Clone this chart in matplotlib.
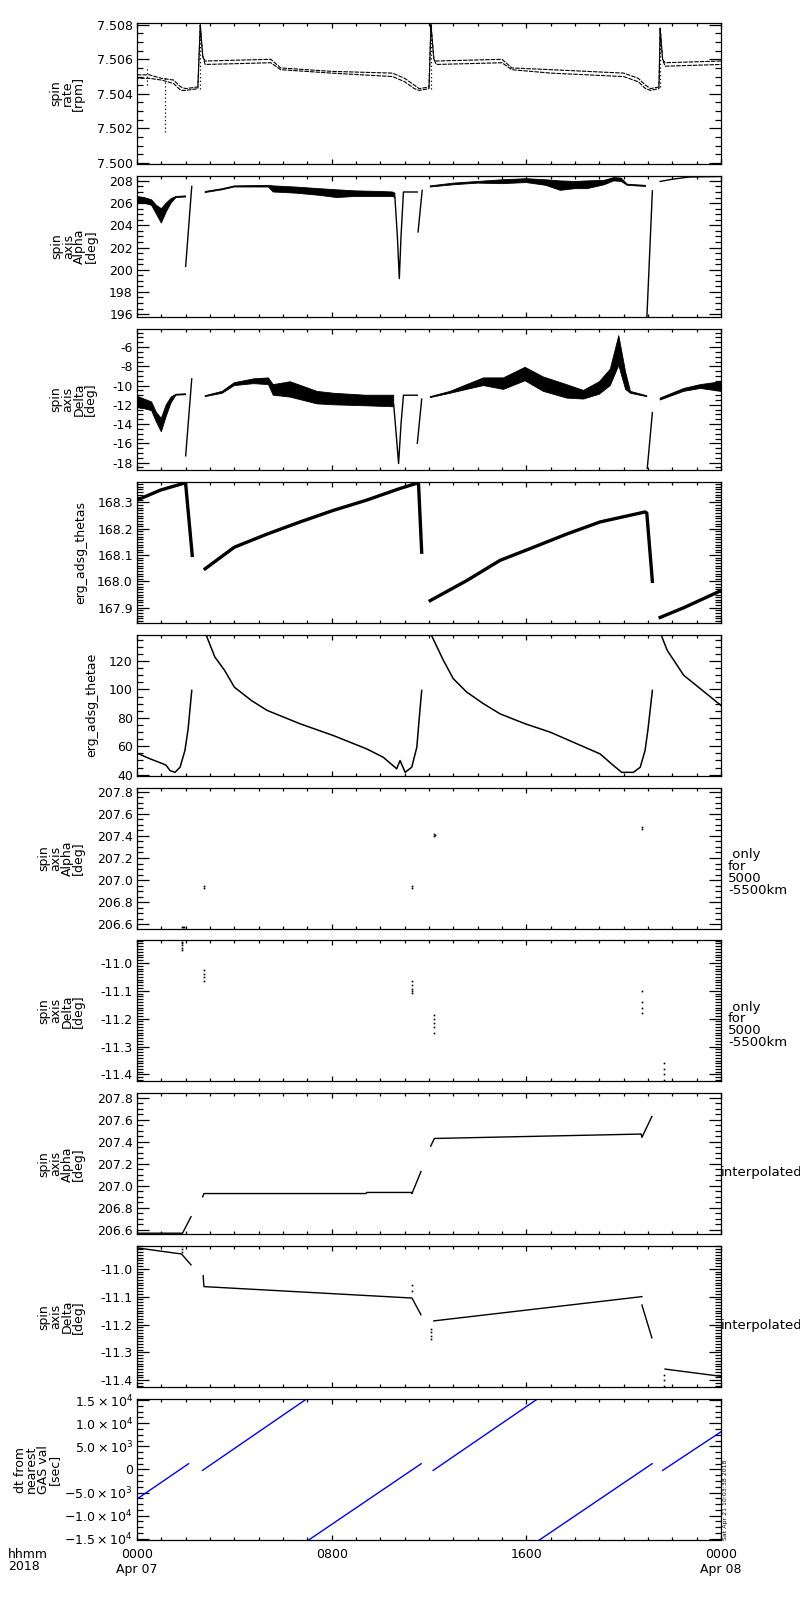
import numpy as np
import matplotlib
matplotlib.use("Agg")
import matplotlib.pyplot as plt
from matplotlib.ticker import MultipleLocator, FormatStrFormatter, FixedLocator

nan = np.nan

# ---- panel 1: spin rate [rpm] ----
rate_t = [0, 0.5, 1.0, 1.5, 1.8, 2.0, 2.5, 2.6, 2.7, 2.8, 5.5, 5.9, 8.0, 10.5, 11.0, 11.4, 11.6, 12.0,
          12.08, 12.2, 12.3, 15.0, 15.4, 17.0, 20.0, 20.6, 20.9, 21.1, 21.45, 21.5, 21.6, 21.7, 24.0]
rate_hi = [7.5051, 7.5051, 7.5049, 7.5048, 7.5044, 7.5043, 7.5044, 7.5080, 7.5062, 7.5059, 7.5060, 7.5055,
           7.5053, 7.5052, 7.5049, 7.5045, 7.5043, 7.5044, 7.5080, 7.5060, 7.5059, 7.5060, 7.5055, 7.5054,
           7.5052, 7.5049, 7.5045, 7.5043, 7.5044, 7.5078, 7.5060, 7.5058, 7.5059]
rate_lo = [7.5049, 7.5049, 7.5048, 7.5046, 7.5042, 7.5042, 7.5043, 7.5080, 7.5062, 7.5057, 7.5058, 7.5054,
           7.5052, 7.5050, 7.5047, 7.5043, 7.5042, 7.5043, 7.5080, 7.5060, 7.5057, 7.5058, 7.5054, 7.5052,
           7.5050, 7.5047, 7.5043, 7.5042, 7.5043, 7.5078, 7.5060, 7.5056, 7.5057]
spike_t = [0.42, 1.15, 2.6, 12.08, 21.5]
spike_lo = [7.5045, 7.5018, 7.5043, 7.5043, 7.5044]
spike_hi = [7.5056, 7.5049, 7.5080, 7.5080, 7.5078]

# ---- panel 2: spin axis Alpha (band) ----
alpha_t = [0, 0.3, 0.6, 0.8, 1.0, 1.2, 1.4, 1.6, 2.0, nan,
           2.8, 3.5, 4.0, 5.4, 5.6, 6.5, 7.5, 8.2, 9.0, 10.0, 10.5, 10.6, nan,
           12.05, 13.0, 14.0, 15.0, 16.0, 16.8, 17.4, 18.0, 18.5, 19.2, 19.6, 19.9, 20.15, 20.9]
alpha_hi = [206.6, 206.5, 206.3, 205.8, 205.5, 206.0, 206.4, 206.6, 206.65, nan,
            207.05, 207.3, 207.55, 207.6, 207.55, 207.45, 207.3, 207.2, 207.1, 207.05, 207.0, 206.9, nan,
            207.55, 207.8, 207.95, 208.1, 208.2, 208.1, 208.0, 207.95, 208.0, 208.05, 208.3, 208.25, 207.7, 207.6]
alpha_lo = [206.0, 206.0, 205.8, 205.0, 204.2, 205.2, 206.0, 206.5, 206.55, nan,
            206.95, 207.2, 207.45, 207.45, 207.0, 206.9, 206.7, 206.5, 206.6, 206.6, 206.6, 206.5, nan,
            207.45, 207.65, 207.8, 207.75, 207.85, 207.6, 207.15, 207.3, 207.3, 207.65, 208.0, 207.95, 207.6, 207.5]
alpha_line_t = [2.0, 2.25, nan, 10.6, 10.7, 10.78, 10.85, 10.95, 11.52, nan, 11.55, 11.72, nan,
                20.94, 21.18, nan, 21.5, 22.0, 22.7, 24.0]
alpha_line_v = [200.3, 207.5, nan, 206.5, 203.0, 199.2, 203.0, 207.0, 207.0, nan, 203.4, 207.15, nan,
                195.0, 207.1, nan, 207.95, 208.15, 208.35, 208.4]

# ---- panel 3: spin axis Delta (band) ----
delta_t = [0, 0.3, 0.6, 0.8, 1.0, 1.2, 1.4, 1.6, 2.0, nan,
           2.8, 3.5, 4.0, 4.8, 5.4, 5.6, 6.3, 7.4, 8.1, 9.4, 10.55, nan,
           12.05, 12.87, 13.55, 14.24, 15.06, 15.95, 16.7, 17.66, 18.35, 19.0, 19.45, 19.8, 20.08, 20.28, 20.95, nan,
           21.5, 22.47, 23.15, 24.0]
delta_hi = [-11.1, -11.4, -11.7, -12.8, -13.4, -12.0, -11.2, -10.9, -10.85, nan,
            -11.05, -10.6, -9.7, -9.3, -9.2, -9.9, -9.6, -10.6, -10.8, -11.0, -11.0, nan,
            -11.15, -10.6, -9.9, -9.2, -9.2, -8.1, -9.1, -9.9, -10.5, -9.6, -8.3, -4.8, -8.6, -10.6, -11.05, nan,
            -11.3, -10.3, -9.9, -9.6]
delta_lo = [-12.3, -12.4, -12.6, -13.8, -14.8, -13.2, -11.8, -11.0, -10.95, nan,
            -11.15, -10.8, -10.0, -9.8, -9.9, -11.0, -11.2, -11.9, -12.0, -12.1, -12.2, nan,
            -11.25, -10.8, -10.4, -10.0, -10.4, -9.5, -10.6, -11.3, -11.4, -10.9, -10.0, -7.9, -10.4, -10.8, -11.15, nan,
            -11.5, -10.6, -10.3, -10.6]
delta_line_t = [2.0, 2.25, nan, 10.55, 10.65, 10.75, 10.85, 10.95, 11.52, nan, 11.52, 11.7, nan, 20.97, 21.18]
delta_line_v = [-17.3, -9.3, nan, -12.0, -15.0, -18.1, -14.0, -11.0, -11.0, nan, -16.0, -11.4, nan, -18.6, -12.8]

# ---- panel 4: erg_adsg_thetas ----
thetas_t = [0, 0.96, 1.92, 2.0, 2.27, nan, 2.8, 4.0, 5.35, 6.7, 8.07, 9.44, 10.8, 11.5, 11.57, 11.7, nan,
            12.05, 13.55, 14.92, 16.3, 17.66, 19.03, 20.88, 20.95, 21.18, nan, 21.5, 22.47, 24.0]
thetas_v = [168.309, 168.347, 168.373, 168.37, 168.099, nan, 168.048, 168.13, 168.18, 168.226, 168.27,
            168.309, 168.353, 168.373, 168.37, 168.111, nan, 167.927, 168.003, 168.08, 168.13, 168.18,
            168.226, 168.264, 168.26, 168.0, nan, 167.863, 167.90, 167.965]

# ---- panel 5: erg_adsg_thetae ----
thetae_t = [0, 0.54, 1.08, 1.2, 1.36, 1.56, 1.77, 1.97, 2.1, 2.25, nan,
            2.78, 3.2, 3.6, 4.0, 4.7, 5.35, 6.7, 8.07, 9.44, 10.12, 10.6, 10.67, 10.81, 11.02, 11.29, 11.5,
            11.6, 11.7, nan,
            12.02, 12.59, 13.0, 13.55, 14.24, 14.92, 15.95, 16.98, 17.93, 19.03, 19.58, 19.92, 20.4, 20.68,
            20.88, 21.0, 21.18, nan,
            21.48, 21.79, 22.47, 23.15, 24.0]
thetae_v = [55.1, 51.1, 47.5, 46.5, 42.8, 41.6, 45.2, 57.0, 72.0, 99.3, nan,
            141.0, 122.8, 113.4, 101.6, 92.2, 85.2, 75.8, 67.5, 58.1, 52.2, 45.2, 44.0, 49.9, 41.6, 45.2, 59.3,
            80.0, 99.3, nan,
            141.0, 120.5, 107.5, 98.1, 89.9, 82.8, 75.8, 69.9, 62.8, 54.6, 46.4, 41.6, 41.6, 45.2,
            57.0, 72.0, 99.3, nan,
            141.0, 127.5, 109.9, 100.5, 88.7]

# ---- panel 6/7: values only for 5000-5500km ----
ra_pts_t = [1.85, 1.9, 1.95, 2.75, 2.75, 11.3, 11.3, 12.22, 12.22, 12.23, 20.75, 20.75]
ra_pts_v = [206.57, 206.57, 206.57, 206.93, 206.95, 206.93, 206.95, 207.40, 207.42, 207.41, 207.46, 207.48]
dec_pts_t = [1.83, 1.83, 1.83, 1.83, 1.84, 2.75, 2.75, 2.75, 2.75, 11.3, 11.3, 11.3, 11.3, 11.31,
             12.22, 12.22, 12.22, 12.22, 12.22, 20.75, 20.75, 20.75, 20.75, 21.65, 21.65, 21.65, 21.65]
dec_pts_v = [-10.925, -10.935, -10.945, -10.955, -10.93, -11.025, -11.04, -11.052, -11.065,
             -11.065, -11.08, -11.095, -11.108, -11.1,
             -11.186, -11.2, -11.215, -11.23, -11.25, -11.1, -11.14, -11.16, -11.178,
             -11.36, -11.38, -11.4, -11.42]

# ---- panel 8/9: interpolated ----
ra_int_t = [0, 1.87, 2.22, nan, 2.70, 2.75, 9.4, 9.45, 11.28, 11.30, 11.67, nan,
            12.07, 12.22, 20.72, 20.75, 21.16, nan, 21.6, 22.0, 23.1, 24.0]
ra_int_v = [206.57, 206.57, 206.72, nan, 206.90, 206.93, 206.93, 206.94, 206.94, 206.93, 207.13, nan,
            207.36, 207.43, 207.47, 207.44, 207.63, nan, 207.84, 207.95, 207.84, 207.84]
dec_int_t = [0, 1.83, 2.22, nan, 2.72, 2.75, 11.3, 11.67, nan, 12.2, 20.75, nan, 20.75, 21.16, nan,
             21.7, 24.0]
dec_int_v = [-10.925, -10.947, -10.986, nan, -11.025, -11.064, -11.105, -11.165, nan, -11.187, -11.1,
             nan, -11.13, -11.248, nan, -11.36, -11.386]
dec_int_dots_t = [1.83, 1.83, 1.83, 11.3, 11.3, 12.1, 12.1, 12.1, 12.1, 21.65, 21.65, 21.65]
dec_int_dots_v = [-10.92, -10.93, -10.94, -11.06, -11.08, -11.216, -11.228, -11.24, -11.252,
                  -11.38, -11.4, -11.42]

# ---- panel 10: dt from nearest GAS val [sec] ----
dt_t = [0, 2.12, nan, 2.69, 6.96, nan, 7.05, 11.68, nan, 12.17, 16.45, nan, 16.53, 21.17, nan, 21.6, 24.0]
dt_v = [-6400, 1240, nan, -220, 15218, nan, -15290, 1240, nan, -220, 15218, nan, -15290, 1240, nan, -220, 8150]

ylabels = ["spin\nrate\n[rpm]", "spin\naxis\nAlpha\n[deg]", "spin\naxis\nDelta\n[deg]",
           "erg_adsg_thetas", "erg_adsg_thetae", "spin\naxis\nAlpha\n[deg]", "spin\naxis\nDelta\n[deg]",
           "spin\naxis\nAlpha\n[deg]", "spin\naxis\nDelta\n[deg]", "dt from\nnearest\nGAS val\n[sec]"]
label_x = [-0.089, -0.067, -0.068, -0.086, -0.067, -0.089, -0.089, -0.089, -0.089, -0.13]
ylims = [(7.49994, 7.5081), (195.75, 208.45), (-18.75, -4.1), (167.843, 168.379), (39.3, 138.6),
         (206.56, 207.84), (-11.425, -10.919), (206.56, 207.84), (-11.425, -10.919), (-15290, 15218)]
ymajor = [0.002, 2, 2, 0.1, 20, 0.2, 0.1, 0.2, 0.1, 5000]
yminor = [0.0005, 0.5, 0.5, 0.01, 5, 0.05, 0.01, 0.05, 0.01, 1250]
yfmt = ['%.3f', '%d', '%d', '%.1f', '%d', '%.1f', '%.1f', '%.1f', '%.1f', None]
dt_ticks = [-15000, -10000, -5000, 0, 5000, 10000, 15000]
dt_ticklabels = [r'$-1.5\times10^{4}$', r'$-1.0\times10^{4}$', r'$-5.0\times10^{3}$', '0',
                 r'$5.0\times10^{3}$', r'$1.0\times10^{4}$', r'$1.5\times10^{4}$']
xtick_pos = [0, 8, 16, 24]
xtick_labels = ["0000\nApr 07", "0800", "1600", "0000\nApr 08"]

plt.rcParams['font.family'] = ['DejaVu Sans']
plt.rcParams['axes.linewidth'] = 0.9
plt.rcParams['mathtext.default'] = 'regular'

fig = plt.figure(figsize=(8, 16), dpi=100)
axes = []
for i in range(10):
    top = 23 + 152.9 * i
    ax = fig.add_axes([137 / 800, 1 - (top + 141) / 1600, 584 / 800, 141 / 1600])
    ax.set_xlim(0, 24)
    ax.set_ylim(*ylims[i])
    ax.xaxis.set_major_locator(FixedLocator(xtick_pos))
    ax.xaxis.set_minor_locator(MultipleLocator(1))
    if i == 9:
        ax.yaxis.set_major_locator(FixedLocator(dt_ticks))
        ax.set_yticklabels(dt_ticklabels)
    else:
        ax.yaxis.set_major_locator(MultipleLocator(ymajor[i]))
        ax.yaxis.set_major_formatter(FormatStrFormatter(yfmt[i]))
    ax.yaxis.set_minor_locator(MultipleLocator(yminor[i]))
    ax.tick_params(axis='both', which='both', direction='in', top=True, right=True, labelsize=9,
                   width=0.9, colors='black')
    ax.tick_params(axis='y', which='major', length=8.4, pad=3)
    ax.tick_params(axis='y', which='minor', length=4.2)
    ax.tick_params(axis='x', which='major', length=3.5, pad=6)
    ax.tick_params(axis='x', which='minor', length=2.2)
    if i == 9:
        ax.set_xticklabels(xtick_labels)
    else:
        ax.tick_params(axis='x', labelbottom=False)
    ax.set_ylabel(ylabels[i], fontsize=9, linespacing=0.85)
    ax.yaxis.set_label_coords(label_x[i], 0.5)
    axes.append(ax)

# spin rate: two quantised levels drawn as dashed runs, like the dotted samples
ax = axes[0]
ax.plot(rate_t, rate_hi, color='black', lw=0.8, ls=(0, (4, 1)))
ax.plot(rate_t, rate_lo, color='black', lw=0.8, ls=(2, (4, 1)))
ax.vlines(spike_t, spike_lo, spike_hi, color='black', lw=0.9, linestyles=(0, (1, 2)))

ax = axes[1]
ax.fill_between(alpha_t, alpha_lo, alpha_hi, color='black', lw=0.6)
ax.plot(alpha_line_t, alpha_line_v, color='black', lw=1.0)

ax = axes[2]
ax.fill_between(delta_t, delta_lo, delta_hi, color='black', lw=0.6)
ax.plot(delta_line_t, delta_line_v, color='black', lw=1.0)

axes[3].plot(thetas_t, thetas_v, color='black', lw=2.4)
axes[4].plot(thetae_t, thetae_v, color='black', lw=1.1)

axes[5].plot(ra_pts_t, ra_pts_v, 's', color='black', ms=1.2, mew=0)
axes[6].plot(dec_pts_t, dec_pts_v, 's', color='black', ms=1.2, mew=0)

axes[7].plot(ra_int_t, ra_int_v, color='black', lw=1.0)
axes[8].plot(dec_int_t, dec_int_v, color='black', lw=1.0)
axes[8].plot(dec_int_dots_t, dec_int_dots_v, 's', color='black', ms=1.2, mew=0)

axes[9].plot(dt_t, dt_v, color='#0000ff', lw=1.0)

for i in (5, 6):
    axes[i].text(1.012, 0.4, " only\nfor\n5000\n-5500km", transform=axes[i].transAxes,
                 fontsize=9.5, ha='left', va='center', linespacing=0.9)
for i in (7, 8):
    axes[i].text(1.0, 0.44, "interpolated", transform=axes[i].transAxes,
                 fontsize=9.5, ha='left', va='center')

axes[9].text(1.004, 0.0, "Sat Apr 21 10:03:38 2018", transform=axes[9].transAxes,
             fontsize=4.5, rotation=90, ha='left', va='bottom')

fig.text(8 / 800, 1 - 1548 / 1600, "hhmm\n2018", fontsize=9, ha='left', va='top', linespacing=0.9)

fig.savefig("out.png", dpi=100)
